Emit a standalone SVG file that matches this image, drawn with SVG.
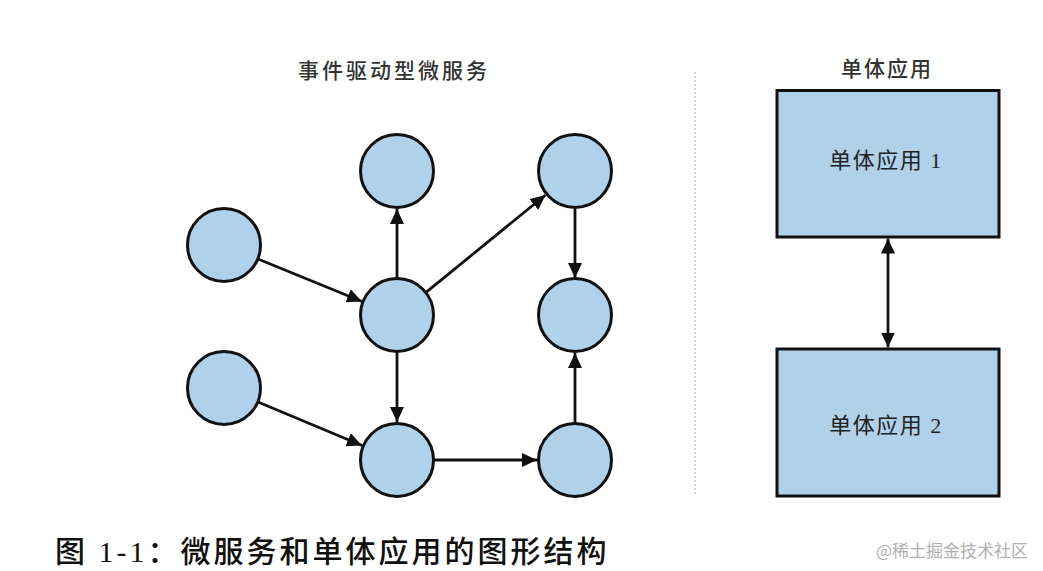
<svg xmlns="http://www.w3.org/2000/svg" width="1043" height="571" viewBox="0 0 1043 571">
<style>
.node{fill:#b0d1ea;stroke:#111;stroke-width:3}
.edge{stroke:#111;stroke-width:2.8;fill:none}
.title{font-family:"Noto Sans CJK SC","Noto Sans",sans-serif;font-size:21px;font-weight:500;fill:#333;letter-spacing:3px;text-anchor:middle}
.lbl{font-family:"Liberation Serif","Noto Sans CJK SC",serif;font-size:22px;fill:#222;text-anchor:middle;letter-spacing:1.5px}
.cap{font-family:"Liberation Serif","Noto Sans CJK SC",serif;font-size:30px;fill:#111;font-weight:500;letter-spacing:3px}
.wm{font-family:"Noto Sans CJK SC",sans-serif;font-size:17px;fill:#b0b0b0}
</style>
<defs>
<marker id="ah" markerUnits="userSpaceOnUse" markerWidth="16" markerHeight="14" refX="15" refY="7" orient="auto-start-reverse" viewBox="0 0 16 14">
<path d="M0,0 L15,7 L0,14 z" fill="#111"/>
</marker>
</defs>
<rect width="1043" height="571" fill="#fff"/>

<text class="title" x="394" y="78">事件驱动型微服务</text>
<text class="title" x="887" y="76" style="letter-spacing:2px">单体应用</text>

<line x1="695" y1="72" x2="695" y2="494" stroke="#c8c8c8" stroke-width="1.5" stroke-dasharray="2 2"/>

<g id="connectors">
<line class="edge" x1="258" y1="259" x2="362" y2="301.5" marker-end="url(#ah)"/>
<line class="edge" x1="397" y1="279" x2="397" y2="209" marker-end="url(#ah)"/>
<line class="edge" x1="425.7" y1="292.6" x2="545.5" y2="195" marker-end="url(#ah)"/>
<line class="edge" x1="575" y1="209" x2="575" y2="278" marker-end="url(#ah)"/>
<line class="edge" x1="397" y1="352" x2="397" y2="422" marker-end="url(#ah)"/>
<line class="edge" x1="258" y1="402" x2="362" y2="445.5" marker-end="url(#ah)"/>
<line class="edge" x1="434" y1="460" x2="537" y2="460" marker-end="url(#ah)"/>
<line class="edge" x1="575" y1="423" x2="575" y2="353" marker-end="url(#ah)"/>
<line class="edge" x1="888" y1="238.5" x2="888" y2="347.5" marker-start="url(#ah)" marker-end="url(#ah)"/>
</g>

<g id="n1"><circle class="node" cx="224" cy="245" r="36.5"/></g>
<g id="n2"><circle class="node" cx="397" cy="171" r="36.5"/></g>
<g id="n3"><circle class="node" cx="575" cy="171" r="36.5"/></g>
<g id="n4"><circle class="node" cx="397" cy="315" r="36.5"/></g>
<g id="n5"><circle class="node" cx="575" cy="315" r="36.5"/></g>
<g id="n6"><circle class="node" cx="224" cy="388" r="36.5"/></g>
<g id="n7"><circle class="node" cx="397" cy="460" r="36.5"/></g>
<g id="n8"><circle class="node" cx="575" cy="460" r="36.5"/></g>

<g id="mono1">
<rect class="node" x="777" y="90.5" width="222" height="146.5"/>
<text class="lbl" x="886" y="168">单体应用 1</text>
</g>
<g id="mono2">
<rect class="node" x="777" y="349" width="222" height="147"/>
<text class="lbl" x="886" y="433">单体应用 2</text>
</g>

<text class="cap" x="55" y="562">图 1-1：微服务和单体应用的图形结构</text>
<text class="wm" x="876" y="557">@稀土掘金技术社区</text>
</svg>
